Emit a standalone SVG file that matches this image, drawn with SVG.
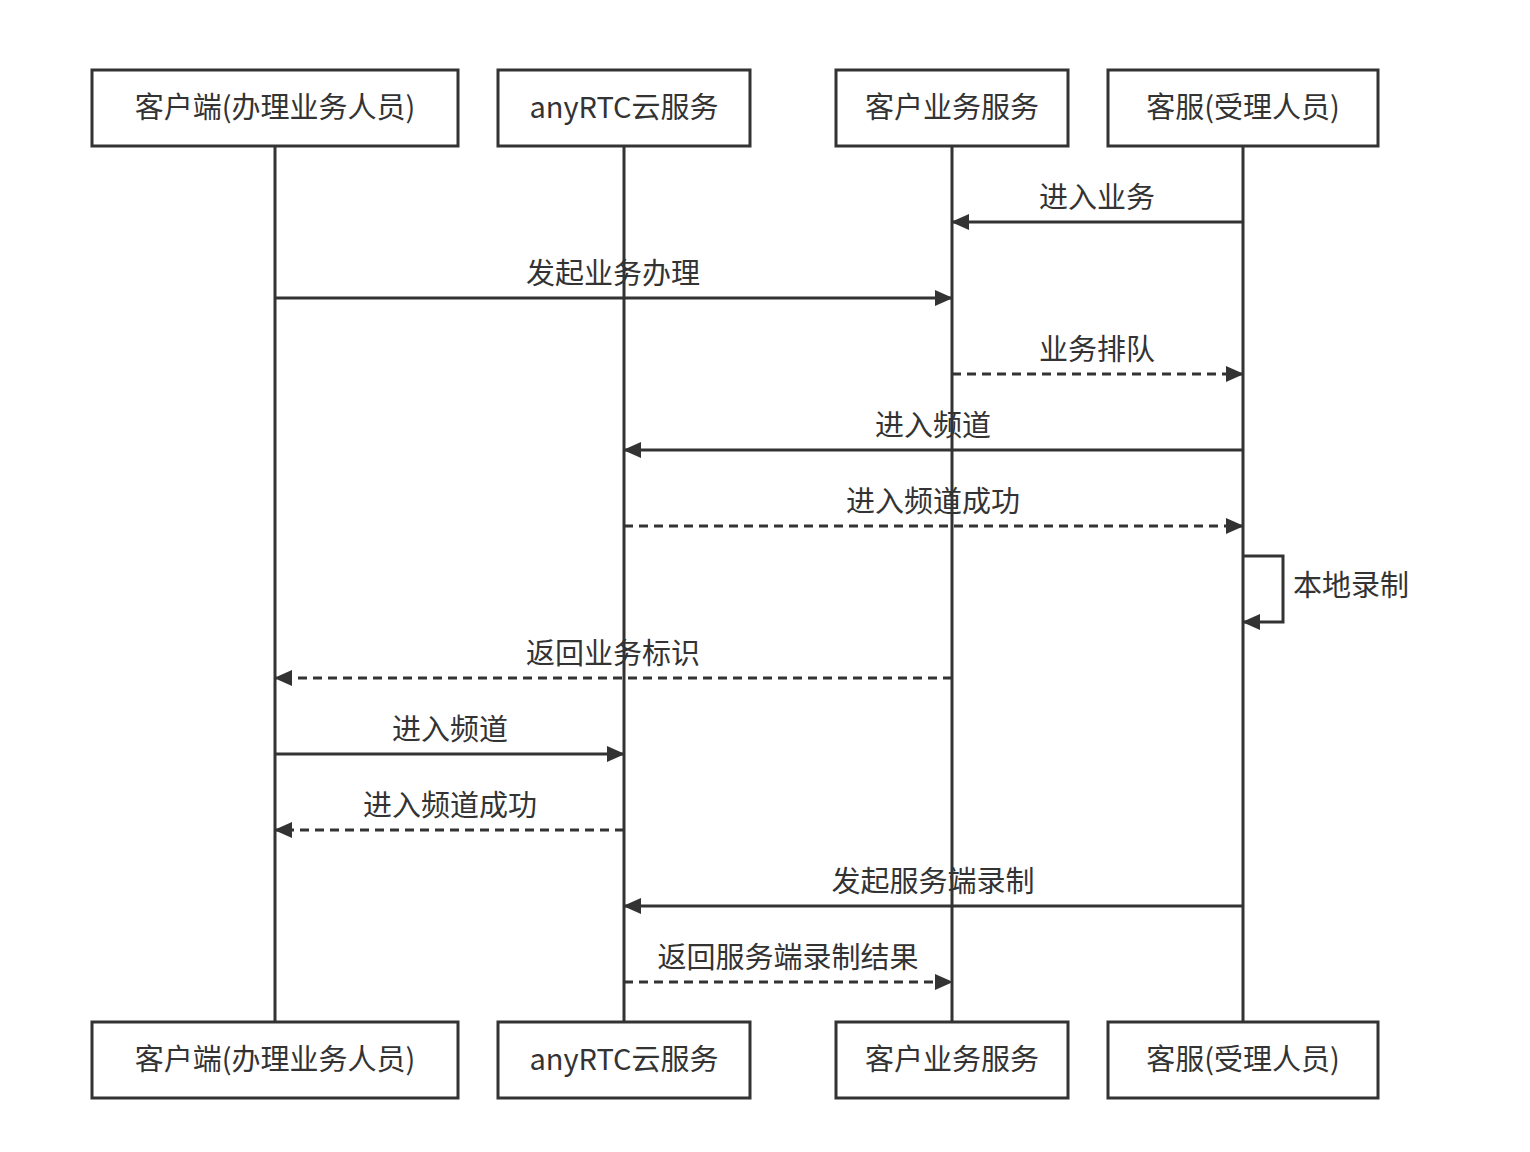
<svg xmlns="http://www.w3.org/2000/svg" width="1530" height="1152" viewBox="0 0 1530 1152">
<style>
text{font-family:"Noto Sans CJK SC","Liberation Sans",sans-serif;font-size:29px;fill:#333;text-anchor:middle}
.box{fill:#fff;stroke:#333;stroke-width:3}
.life{stroke:#333;stroke-width:3}
.msg{stroke:#333;stroke-width:3;fill:none;marker-end:url(#ah)}
.dash{stroke-dasharray:9,6}
</style>
<defs><marker id="ah" markerWidth="18" markerHeight="16" refX="17" refY="8" orient="auto" markerUnits="userSpaceOnUse"><path d="M0,0 L18,8 L0,16 Z" fill="#333"/></marker></defs>
<rect width="1530" height="1152" fill="#fff"/>
<g id="lifelines">
<line class="life" x1="275" y1="146" x2="275" y2="1022"/>
<line class="life" x1="624" y1="146" x2="624" y2="1022"/>
<line class="life" x1="952" y1="146" x2="952" y2="1022"/>
<line class="life" x1="1243" y1="146" x2="1243" y2="1022"/>
</g>
<g id="p1"><rect class="box" x="92" y="70" width="366" height="76"/><text x="275" y="118">客户端(办理业务人员)</text></g>
<g id="p2"><rect class="box" x="498" y="70" width="252" height="76"/><text x="624" y="118">anyRTC云服务</text></g>
<g id="p3"><rect class="box" x="836" y="70" width="232" height="76"/><text x="952" y="118">客户业务服务</text></g>
<g id="p4"><rect class="box" x="1108" y="70" width="270" height="76"/><text x="1243" y="118">客服(受理人员)</text></g>
<g id="p1b"><rect class="box" x="92" y="1022" width="366" height="76"/><text x="275" y="1070">客户端(办理业务人员)</text></g>
<g id="p2b"><rect class="box" x="498" y="1022" width="252" height="76"/><text x="624" y="1070">anyRTC云服务</text></g>
<g id="p3b"><rect class="box" x="836" y="1022" width="232" height="76"/><text x="952" y="1070">客户业务服务</text></g>
<g id="p4b"><rect class="box" x="1108" y="1022" width="270" height="76"/><text x="1243" y="1070">客服(受理人员)</text></g>
<g id="connectors">
<line class="msg" x1="1243" y1="222" x2="952" y2="222"/><text x="1097" y="208">进入业务</text>
<line class="msg" x1="275" y1="298" x2="952" y2="298"/><text x="613" y="284">发起业务办理</text>
<line class="msg dash" x1="952" y1="374" x2="1243" y2="374"/><text x="1097" y="360">业务排队</text>
<line class="msg" x1="1243" y1="450" x2="624" y2="450"/><text x="933" y="436">进入频道</text>
<line class="msg dash" x1="624" y1="526" x2="1243" y2="526"/><text x="933" y="512">进入频道成功</text>
<path class="msg" d="M1243,556 H1283 V622 H1243"/><text x="1293" y="596" style="text-anchor:start">本地录制</text>
<line class="msg dash" x1="952" y1="678" x2="275" y2="678"/><text x="613" y="664">返回业务标识</text>
<line class="msg" x1="275" y1="754" x2="624" y2="754"/><text x="450" y="740">进入频道</text>
<line class="msg dash" x1="624" y1="830" x2="275" y2="830"/><text x="450" y="816">进入频道成功</text>
<line class="msg" x1="1243" y1="906" x2="624" y2="906"/><text x="933" y="892">发起服务端录制</text>
<line class="msg dash" x1="624" y1="982" x2="952" y2="982"/><text x="788" y="968">返回服务端录制结果</text>
</g>
</svg>
